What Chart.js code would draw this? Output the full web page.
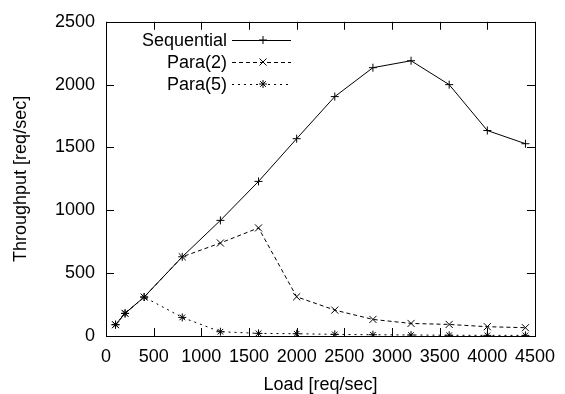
<!DOCTYPE html>
<html>
<head>
<meta charset="utf-8">
<script src="https://cdn.jsdelivr.net/npm/chart.js@4.4.1/dist/chart.umd.min.js"></script>
<style>
  html, body { margin: 0; padding: 0; background: #fff; }
  #wrap { width: 565px; height: 394px; position: relative; }
</style>
</head>
<body>
<div id="wrap"><canvas id="chart" width="565" height="394"></canvas></div>
<script>
// loads on the x axis
const loads = [100, 200, 400, 800, 1200, 1600, 2000, 2400, 2800, 3200, 3600, 4000, 4400];
const seriesNames = ["Sequential", "Para(2)", "Para(5)"];
const sequential = [90, 180, 310, 630, 920, 1230, 1570, 1905, 2135, 2190, 2000, 1635, 1530];
const para2 = [90, 180, 310, 630, 740, 860, 312, 206, 132, 100, 92, 74, 66];
const para5 = [90, 180, 310, 148, 34, 21, 18, 13, 10, 8, 6, 5, 5];
const xTicks = [0, 500, 1000, 1500, 2000, 2500, 3000, 3500, 4000, 4500];
const yTicks = [0, 500, 1000, 1500, 2000, 2500];

const FONT = "Liberation Sans, Arial, Helvetica, sans-serif";

function points(vals) {
    return vals.map((v, i) => ({ x: loads[i], y: v }));
}

// gnuplot-like frame with inward ticks on all sides and a key inside the plot
const framePlugin = {
    id: "frame",
    afterDatasetsDraw(chart) {
        const ctx = chart.ctx;
        const a = chart.chartArea;
        const xs = chart.scales.x, ys = chart.scales.y;
        ctx.save();
        ctx.strokeStyle = "#000";
        ctx.lineWidth = 1;
        ctx.setLineDash([]);
        ctx.beginPath();
        xTicks.forEach(t => {
            const px = Math.round(xs.getPixelForValue(t)) + 0.5;
            ctx.moveTo(px, a.bottom); ctx.lineTo(px, a.bottom - 8);
            ctx.moveTo(px, a.top); ctx.lineTo(px, a.top + 8);
        });
        yTicks.forEach(t => {
            const py = Math.round(ys.getPixelForValue(t)) + 0.5;
            ctx.moveTo(a.left, py); ctx.lineTo(a.left + 8, py);
            ctx.moveTo(a.right, py); ctx.lineTo(a.right - 8, py);
        });
        ctx.stroke();
        ctx.strokeRect(Math.round(a.left) + 0.5, Math.round(a.top) + 0.5,
            Math.round(a.right - a.left), Math.round(a.bottom - a.top));

        // key
        ctx.font = "18px " + FONT;
        ctx.fillStyle = "#000";
        ctx.textAlign = "right";
        ctx.textBaseline = "middle";
        chart.data.datasets.forEach((ds, i) => {
            const y = 40 + i * 22;
            ctx.fillText(ds.label, 227, y + 1);
            ctx.save();
            ctx.setLineDash(ds.borderDash || []);
            ctx.beginPath();
            ctx.moveTo(232, y + 0.5);
            ctx.lineTo(291, y + 0.5);
            ctx.stroke();
            ctx.restore();
            Chart.helpers.drawPoint(ctx, {
                pointStyle: ds.pointStyle, radius: ds.pointRadius, borderWidth: 1
            }, 263, y);
        });
        ctx.restore();
    }
};

new Chart(document.getElementById("chart"), {
    type: "line",
    data: {
        datasets: [
            {
                label: seriesNames[0], data: points(sequential),
                borderColor: "#000", borderWidth: 1, pointStyle: "cross",
                pointRadius: 4, pointBorderColor: "#000", pointBorderWidth: 1
            },
            {
                label: seriesNames[1], data: points(para2), borderDash: [4, 3],
                borderColor: "#000", borderWidth: 1, pointStyle: "crossRot",
                pointRadius: 5, pointBorderColor: "#000", pointBorderWidth: 1
            },
            {
                label: seriesNames[2], data: points(para5), borderDash: [2, 4],
                borderColor: "#000", borderWidth: 1, pointStyle: "star",
                pointRadius: 4, pointBorderColor: "#000", pointBorderWidth: 1
            }
        ]
    },
    options: {
        responsive: false,
        animation: false,
        layout: { padding: { left: 0, top: 20, right: 27, bottom: 0 } },
        plugins: { legend: { display: false }, tooltip: { enabled: false } },
        scales: {
            x: {
                type: "linear", min: 0, max: 4500,
                afterBuildTicks(s) { s.ticks = xTicks.map(v => ({ value: v })); },
                afterFit(s) { s.height = 58; },
                grid: { display: false, drawTicks: false },
                border: { display: false },
                ticks: { color: "#000", font: { family: FONT, size: 18 }, padding: 10,
                    maxRotation: 0, callback: v => String(v) },
                title: { display: true, text: "Load [req/sec]", color: "#000",
                    font: { family: FONT, size: 18 }, padding: { top: 0, bottom: -2 } }
            },
            y: {
                min: 0, max: 2500,
                afterBuildTicks(s) { s.ticks = yTicks.map(v => ({ value: v })); },
                afterFit(s) { s.width = 106; },
                grid: { display: false, drawTicks: false },
                border: { display: false },
                ticks: { color: "#000", font: { family: FONT, size: 18 }, padding: 11,
                    callback: v => String(v) },
                title: { display: true, text: "Throughput [req/sec]", color: "#000",
                    font: { family: FONT, size: 18 }, padding: { top: 10, bottom: 0 } }
            }
        }
    },
    plugins: [framePlugin]
});
</script>
</body>
</html>
